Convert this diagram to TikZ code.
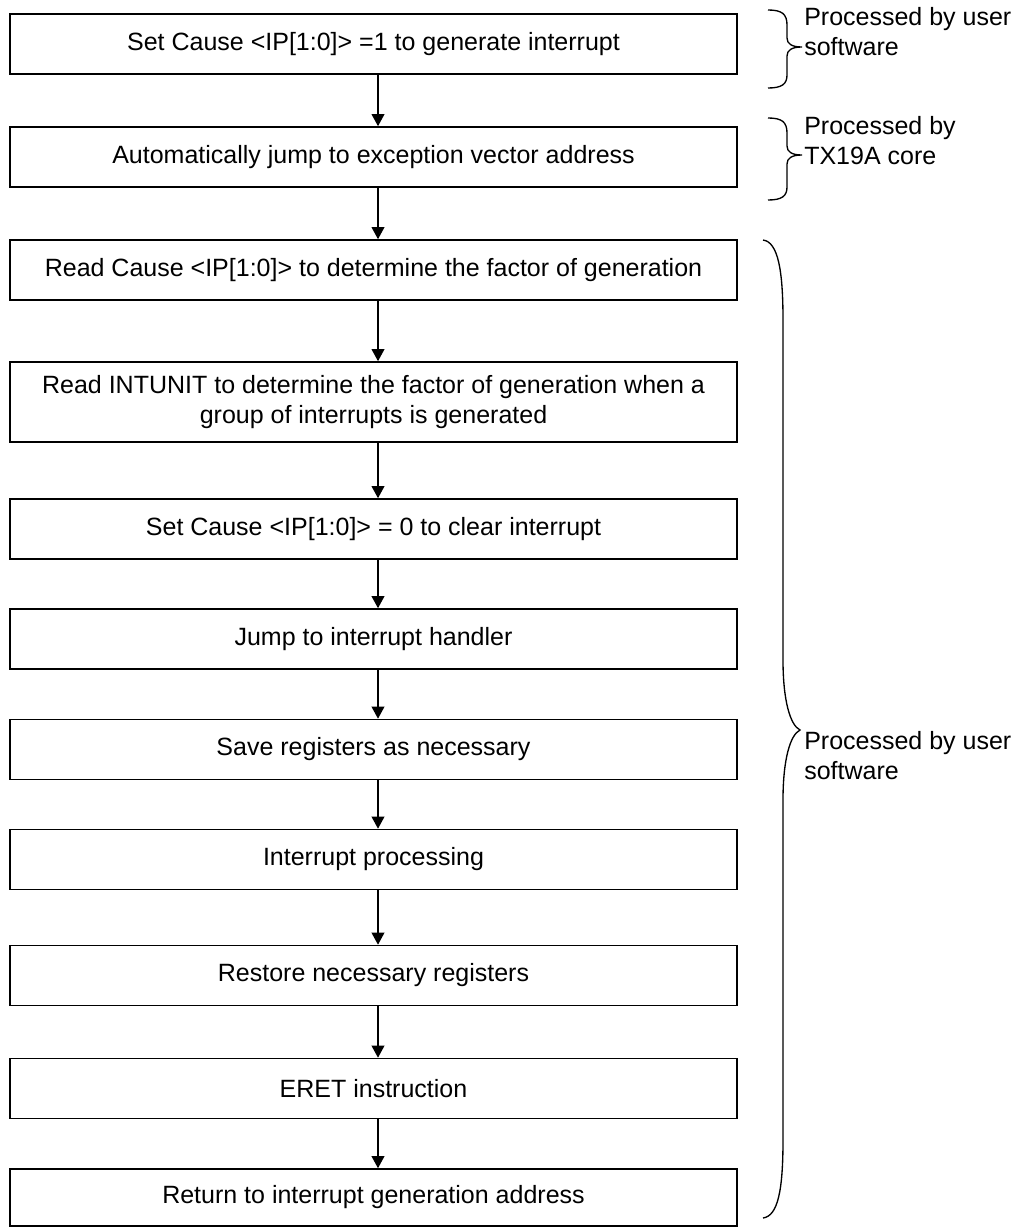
\documentclass[tikz,border=0pt]{standalone}
\usepackage{fontspec}
\setmainfont{Liberation Sans}
\usetikzlibrary{arrows.meta}
\begin{document}
\begin{tikzpicture}[x=0.75pt,y=-0.75pt,
  every node/.style={font=\fontsize{18.75pt}{22.5pt}\selectfont},
  stepbox/.style={draw,line width=1.2pt,minimum width=545.25pt,minimum height=45pt,inner sep=0pt,align=center},
  flow/.style={line width=1.1pt,-{Triangle[length=9pt,width=9.5pt]}},
  brace/.style={line width=1pt},
  sidenote/.style={align=left,inner sep=0pt}]
\useasboundingbox (0,0) rectangle (1027,1228);

% flow steps
\node[stepbox] (s1) at (373.5,44) {Set Cause <IP[1:0]> =1 to generate interrupt};
\node[stepbox] (s2) at (373.5,157) {Automatically jump to exception vector address};
\node[stepbox] (s3) at (373.5,270) {Read Cause <IP[1:0]> to determine the factor of generation};
\node[stepbox,minimum height=60pt] (s4) at (373.5,402) {Read INTUNIT to determine the factor of generation when a\\group of interrupts is generated};
\node[stepbox] (s5) at (373.5,529) {Set Cause <IP[1:0]> = 0 to clear interrupt};
\node[stepbox] (s6) at (373.5,639) {Jump to interrupt handler};
\node[stepbox] (s7) at (373.5,749.5) {Save registers as necessary};
\node[stepbox] (s8) at (373.5,859.5) {Interrupt processing};
\node[stepbox] (s9) at (373.5,975.5) {Restore necessary registers};
\node[stepbox] (s10) at (373.5,1088.5) {ERET instruction};
\node[stepbox,minimum height=42.75pt] (s11) at (373.5,1197.5) {Return to interrupt generation address};

% connectors
\coordinate (ax) at (378,0);
\foreach \a/\b in {s1/s2,s2/s3,s3/s4,s4/s5,s5/s6,s6/s7,s7/s8,s8/s9,s9/s10,s10/s11}
  \draw[flow] (\a.south -| ax) -- (\b.north -| ax);

% braces
\draw[brace] (768,10) .. controls (782,10) and (787,14) .. (787,25) -- (787,38)
  .. controls (787,44) and (792,47) .. (802,47)
  .. controls (792,47) and (787,50) .. (787,56) -- (787,75)
  .. controls (787,84) and (782,88) .. (768,88);
\draw[brace] (768,118) .. controls (782,118) and (787,122) .. (787,133) -- (787,146)
  .. controls (787,152) and (792,155) .. (802,155)
  .. controls (792,155) and (787,158) .. (787,164) -- (787,187)
  .. controls (787,196) and (782,200) .. (768,200);
\draw[brace] (763,240) .. controls (778,242) and (783,270) .. (783,320) -- (783,660)
  .. controls (783,700) and (790,725) .. (800,730)
  .. controls (790,735) and (783,760) .. (783,800) -- (783,1140)
  .. controls (783,1190) and (778,1216) .. (763,1218);

% side notes
\node[sidenote,anchor=west] (n1) at (804,32) {Processed by user\\software};
\node[sidenote,anchor=west] (n2) at (804,141) {Processed by\\TX19A core};
\node[sidenote,anchor=west] (n3) at (804,756) {Processed by user\\software};
\end{tikzpicture}
\end{document}
